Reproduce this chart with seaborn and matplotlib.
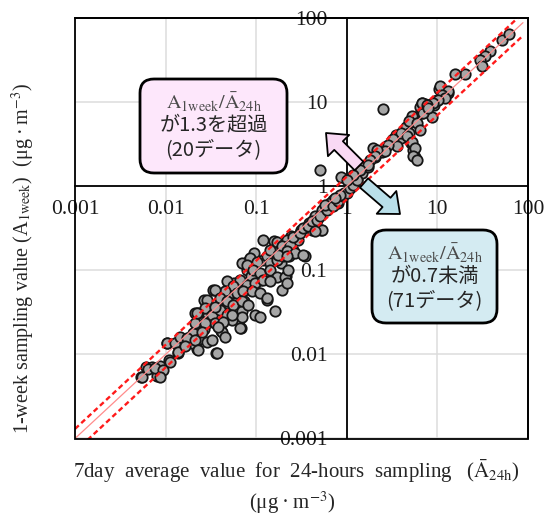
"""1週間サンプリング値 vs 24時間サンプリング7日平均値 の散布図。"""

import matplotlib
matplotlib.use("Agg")
import matplotlib.pyplot as plt
import pandas as pd
import seaborn as sns
from matplotlib.patches import FancyArrowPatch, FancyBboxPatch, Rectangle
from matplotlib.ticker import NullLocator

# 7day average of 24-hour sampling (x) and 1-week sampling (y), ug/m3
avg_24h = [
    0.0054, 0.0061, 0.0071, 0.0081, 0.0087, 0.0109, 0.0103, 0.0136, 0.0133, 0.0156,
    0.0178, 0.0222, 0.0194, 0.0361, 0.0203, 0.0232, 0.0265, 0.0212, 0.0243, 0.029,
    0.0316, 0.0265, 0.029, 0.0345, 0.033, 0.0412, 0.0431, 0.0412, 0.0492, 0.0471,
    0.0515, 0.0671, 0.0643, 0.0702, 0.0733, 0.0588, 0.0562, 0.0643, 0.0838, 0.0702,
    0.080, 0.0875, 0.0957, 0.130, 0.119, 0.0957, 0.119, 0.114, 0.143, 0.156,
    0.170, 0.186, 0.212, 0.203, 0.254, 0.243, 0.232, 0.290, 0.345, 0.316,
    0.378, 0.412, 0.451, 0.515, 0.538, 0.50, 0.70, 0.80, 0.92, 0.87,
    1.09, 1.30, 1.49, 1.70, 2.03, 1.94, 2.42, 2.5, 2.65, 3.16,
    3.45, 3.94, 4.12, 4.5, 4.92, 5.15, 5.38, 5.62, 5.15, 5.87,
    6.42, 6.7, 7.33, 8.75, 9.15, 10.0, 10.4, 11.4, 13.0,
    # dense band 0.02 - 0.25
    0.168, 0.199, 0.183, 0.217, 0.0855, 0.0785, 0.101, 0.131, 0.142, 0.168,
    0.199, 0.226, 0.093, 0.110, 0.142, 0.168, 0.208, 0.226, 0.0662, 0.0785,
    0.097, 0.120, 0.142, 0.191, 0.217, 0.0472, 0.056, 0.0453, 0.0608, 0.0721,
    0.0891, 0.110, 0.131, 0.0351, 0.0284, 0.0398, 0.0472, 0.056, 0.0692, 0.0818,
    0.097, 0.110, 0.161, 0.023, 0.0272, 0.0322, 0.0398, 0.0472, 0.0536, 0.0692,
    0.0662, 0.0261, 0.0211, 0.0351, 0.0434,
    # band 0.15 - 1.3
    0.191, 0.236, 0.217, 0.257, 0.304, 0.331, 0.376, 0.409, 0.466, 0.506,
    0.528, 0.446, 0.600, 0.653, 0.574, 0.710, 0.805, 0.916, 1.0, 1.08,
    1.18, 1.28, 0.84, 0.741, 0.268, 0.331, 0.142, 0.175, 0.217,
    # band 1 - 8
    6.7, 7.6, 7.0, 5.2, 4.8, 5.9, 6.4, 4.0, 4.6, 5.2,
    5.7, 5.4, 5.9, 3.26, 3.55, 2.87, 2.64, 2.14, 2.05, 1.80,
    1.73, 1.40, 1.18, 1.0,
    # upper end
    51, 61, 38, 33.5, 29.5, 30.8, 20.2, 15.6, 10.7, 13.2,
    11.1, 12.1, 10.2, 9.0, 6.7, 7.6, 7.9,
    # lower tail
    0.00545, 0.00645, 0.0076, 0.0094, 0.0087, 0.0112, 0.0103, 0.0127, 0.0138, 0.0144,
    0.0171, 0.0211, 0.023, 0.022, 0.0272, 0.025, 0.0284, 0.0322, 0.0366, 0.0416,
    0.0453, 0.0382, 0.0351, 0.0536, 0.0164,
]
week_1 = [
    0.0054, 0.0070, 0.0070, 0.0055, 0.0073, 0.0085, 0.0137, 0.0103, 0.0137, 0.0151,
    0.0158, 0.0117, 0.0137, 0.0105, 0.0181, 0.0151, 0.0198, 0.0312, 0.0260, 0.0237,
    0.0285, 0.0449, 0.0312, 0.0357, 0.059, 0.0449, 0.026, 0.0189, 0.0312, 0.041,
    0.0538, 0.0207, 0.026, 0.0327, 0.0429, 0.041, 0.0708, 0.059, 0.134, 0.122,
    0.102, 0.085, 0.0646, 0.0449, 0.231, 0.161, 0.134, 0.0775, 0.093, 0.221,
    0.161, 0.122, 0.085, 0.161, 0.176, 0.253, 0.147, 0.231, 0.147, 0.303,
    0.364, 0.303, 0.437, 0.303, 0.524, 1.55, 0.69, 0.63, 0.83, 1.30,
    0.95, 1.19, 1.43, 1.71, 2.25, 2.82, 2.58, 8.2, 2.95, 3.54,
    4.06, 3.71, 4.45, 5.1, 4.25, 5.85, 2.70, 2.25, 3.24, 6.7,
    8.8, 7.35, 9.6, 6.7, 9.2, 10.6, 14.5, 11.6, 12.7,
    0.220, 0.201, 0.175, 0.231, 0.140, 0.116, 0.127, 0.146, 0.122, 0.133,
    0.146, 0.160, 0.101, 0.0925, 0.101, 0.0843, 0.0843, 0.101, 0.0771, 0.0671,
    0.0705, 0.0771, 0.0736, 0.0586, 0.0705, 0.0736, 0.0643, 0.056, 0.0535, 0.056,
    0.056, 0.0535, 0.0467, 0.0586, 0.0446, 0.0467, 0.0426, 0.0388, 0.0426, 0.0388,
    0.0295, 0.0282, 0.0324, 0.0309, 0.0355, 0.0295, 0.0339, 0.0295, 0.0258, 0.0282,
    0.0205, 0.0246, 0.0235, 0.0235, 0.0246,
    0.192, 0.201, 0.168, 0.252, 0.277, 0.318, 0.333, 0.381, 0.399, 0.438,
    0.303, 0.290, 0.525, 0.631, 0.603, 0.575, 0.659, 0.757, 0.83, 0.95,
    1.04, 1.19, 0.79, 0.724, 0.160, 0.153, 0.175, 0.153, 0.146,
    9.8, 9.3, 7.4, 6.8, 5.9, 5.65, 4.7, 4.3, 3.9, 3.4,
    2.85, 2.26, 2.07, 3.6, 2.98, 3.12, 2.6, 2.72, 2.26, 2.07,
    1.80, 1.57, 1.37, 1.19,
    55, 64, 40, 35, 32, 26.7, 21.6, 21.6, 15.4, 13.5,
    12.3, 11.2, 10.7, 9.8, 9.8, 9.3, 8.5,
    0.00535, 0.0067, 0.0069, 0.0065, 0.0054, 0.0082, 0.0136, 0.0138, 0.0108, 0.0163,
    0.0156, 0.0149, 0.0113, 0.0309, 0.0235, 0.0187, 0.0142, 0.0149, 0.0103, 0.0187,
    0.0163, 0.0214, 0.0371, 0.0295, 0.0126,
]

# ratio reference lines (1.3 / 1.0 / 0.7)
ratio_lines = [1.3, 1.0, 0.7]
line_x = [0.001, 88]

decades = [0.001, 0.01, 0.1, 1, 10, 100]
decade_labels = ["0.001", "0.01", "0.1", "1", "10", "100"]

W, H = 545, 522


def px(x, y):
    # figure pixel (top-left origin) -> inches for dpi_scale_trans
    return x / 100, (H - y) / 100


sns.set_style("white")
plt.rcParams["font.family"] = ["Liberation Serif", "Noto Sans CJK JP"]
plt.rcParams["mathtext.fontset"] = "stix"

df = pd.DataFrame({"avg_24h": avg_24h, "week_1": week_1})

fig = plt.figure(figsize=(W / 100, H / 100), dpi=100)
ax = fig.add_axes([75 / W, 1 - 438.5 / H, 453 / W, 420.5 / H])
ax.set_xscale("log")
ax.set_yscale("log")
ax.set_xlim(0.001, 100)
ax.set_ylim(0.001, 100)

ax.set_xticks(decades)
ax.set_xticklabels(decade_labels)
ax.set_yticks(decades)
ax.set_yticklabels(decade_labels)
ax.xaxis.set_minor_locator(NullLocator())
ax.yaxis.set_minor_locator(NullLocator())
ax.grid(True, which="major", color="#dcdcdc", linewidth=1.1)
ax.set_axisbelow(True)
ax.tick_params(axis="both", length=0, labelsize=15.5, colors="#1a1a1a")
ax.tick_params(axis="x", pad=10)
ax.tick_params(axis="y", pad=14)

# axes cross at 1
ax.spines["left"].set_position(("data", 1))
ax.spines["bottom"].set_position(("data", 1))
for sp in ax.spines.values():
    sp.set_color("black")
    sp.set_linewidth(1.3)
ax.add_patch(Rectangle((0, 0), 1, 1, transform=ax.transAxes, fill=False,
                       ec="black", lw=1.3, clip_on=False, zorder=6))

sns.scatterplot(data=df, x="avg_24h", y="week_1", ax=ax, s=56, color="#a6a6a6",
                edgecolor="#151515", linewidth=1.3, zorder=4, legend=False)

for r in ratio_lines:
    ys = [r * v for v in line_x]
    if r == 1.0:
        ax.plot(line_x, ys, color="#ff8c8c", lw=0.9, zorder=5)
    else:
        ax.plot(line_x, ys, color="#ff1a1a", lw=1.7, dashes=(2.2, 1.4), zorder=5)

ax.set_xlabel("")
ax.set_ylabel("")

unit = "(μg\u2009·\u2009m$^{\\mathrm{-3}}$)"

# axis titles
fig.text(*px(296, 471), "7day  average  value  for  24-hours  sampling   "
         r"($\bar{\mathrm{A}}_{\mathrm{24h}}$)",
         transform=fig.dpi_scale_trans, ha="center", va="center", fontsize=15)
fig.text(*px(292, 503), unit, transform=fig.dpi_scale_trans,
         ha="center", va="center", fontsize=15)
fig.text(*px(23, 258), r"1-week sampling value (A$_{\mathrm{1week}}$)  " + unit,
         transform=fig.dpi_scale_trans, ha="center", va="center", rotation=90, fontsize=14.5)

# annotation boxes
boxes = [
    ((140, 79, 287, 173), "#fde7fb", "が1.3を超過", "(20データ)"),
    ((372, 230, 497, 323), "#d4ebf2", "が0.7未満", "(71データ)"),
]
ratio_txt = r"$\mathrm{A}_{\mathrm{1week}}/\bar{\mathrm{A}}_{\mathrm{24h}}$"
for (x0, y0, x1, y1), fc, line2, line3 in boxes:
    bx, by = px(x0, y1)
    box = FancyBboxPatch((bx, by), (x1 - x0) / 100, (y1 - y0) / 100,
                         boxstyle="round,pad=0,rounding_size=0.14",
                         transform=fig.dpi_scale_trans, fc=fc, ec="black", lw=2.0, zorder=7)
    fig.add_artist(box)
    cx = (x0 + x1) / 2
    fig.text(*px(cx, y0 + 24), ratio_txt, transform=fig.dpi_scale_trans, ha="center",
             va="center", fontsize=14.5, color="#4a4a4a", zorder=8)
    fig.text(*px(cx, y0 + 46), line2, transform=fig.dpi_scale_trans, ha="center",
             va="center", fontsize=14.5, color="#262626", family="Noto Sans CJK JP", zorder=8)
    fig.text(*px(cx, y0 + 71), line3, transform=fig.dpi_scale_trans, ha="center",
             va="center", fontsize=14.5, color="#262626", family="Noto Sans CJK JP", zorder=8)

# block arrows
arrows = [((359, 166), (326, 133), "#f9d9f4"), ((364, 183), (400, 214), "#b9dfe9")]
for a, b, fc in arrows:
    arr = FancyArrowPatch(px(*a), px(*b), transform=fig.dpi_scale_trans,
                          arrowstyle="simple,head_length=0.8,head_width=1.35,tail_width=0.55",
                          mutation_scale=16, shrinkA=0, shrinkB=0,
                          fc=fc, ec="black", lw=1.3, zorder=7)
    fig.add_artist(arr)

fig.savefig("out.png", dpi=100)
